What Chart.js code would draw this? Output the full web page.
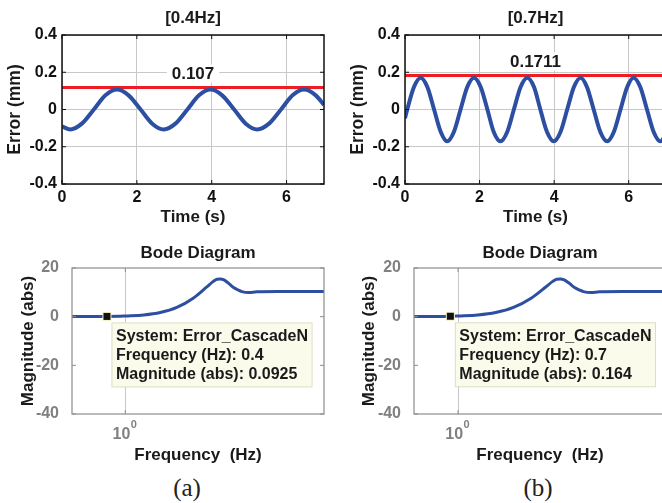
<!DOCTYPE html>
<html>
<head>
<meta charset="utf-8">
<script src="https://cdn.jsdelivr.net/npm/chart.js@4.4.1/dist/chart.umd.min.js"></script>
<style>
  html, body { margin: 0; padding: 0; background: #fff; overflow: hidden; width: 662px; height: 503px; }
  canvas { position: absolute; }
  .cap { position: absolute; font-family: 'Liberation Serif', 'DejaVu Serif', serif; font-size: 25px; color: #222; transform: translate(-50%, -50%); }
</style>
</head>
<body>
<canvas id="errA" width="331" height="240" style="left:0;top:0"></canvas>
<canvas id="errB" width="335" height="240" style="left:331px;top:0"></canvas>
<canvas id="bodeA" width="331" height="232" style="left:0;top:240px"></canvas>
<canvas id="bodeB" width="335" height="232" style="left:331px;top:240px"></canvas>
<div class="cap" style="left:187px;top:488px">(a)</div>
<div class="cap" style="left:538px;top:488px">(b)</div>
<script>
// tracking error at 0.4 Hz
const timeA  = [0, 0.22, 0.53, 0.85, 1.16, 1.47, 1.78, 2.10, 2.41, 2.72, 3.03, 3.35, 3.66, 3.97, 4.28, 4.60, 4.91, 5.22, 5.53, 5.85, 6.16, 6.47, 6.78, 7];
const errorA = [-0.091, -0.107, -0.076, 0, 0.076, 0.107, 0.076, 0, -0.076, -0.107, -0.076, 0, 0.076, 0.107, 0.076, 0, -0.076, -0.107, -0.076, 0, 0.076, 0.107, 0.076, 0.025];
const limitA = 0.118;

// tracking error at 0.7 Hz
const timeB  = [0, 0.06, 0.24, 0.42, 0.60, 0.78, 0.96, 1.13, 1.31, 1.49, 1.67, 1.85, 2.03, 2.21, 2.38, 2.56, 2.74, 2.92, 3.10, 3.28,
                3.46, 3.63, 3.81, 3.99, 4.17, 4.35, 4.53, 4.71, 4.88, 5.06, 5.24, 5.42, 5.60, 5.78, 5.96, 6.13, 6.31, 6.49, 6.67, 6.85, 7];
const errorB = [-0.047, 0, 0.121, 0.1711, 0.121, 0, -0.121, -0.1711, -0.121, 0, 0.121, 0.1711, 0.121, 0, -0.121, -0.1711, -0.121, 0, 0.121, 0.1711,
                0.121, 0, -0.121, -0.1711, -0.121, 0, 0.121, 0.1711, 0.121, 0, -0.121, -0.1711, -0.121, 0, 0.121, 0.1711, 0.121, 0, -0.121, -0.1711, -0.134];
const limitB = 0.183;

// Error_CascadeN magnitude response
const freqHz = [0.07, 0.4, 0.7, 1, 2.5, 5.7, 13, 30, 58, 80, 96, 115, 133, 170, 220, 280, 333, 461, 700, 2000, 20000];
const magAbs = [0.05, 0.0925, 0.164, 0.3, 0.7, 1.7, 3.8, 7.7, 12.2, 14.5, 15.4, 15.5, 15.2, 13.8, 12.0, 10.9, 10.3, 9.9, 10.2, 10.3, 10.3];

const tipA = { freq: 0.4, mag: 0.0925 };
const tipB = { freq: 0.7, mag: 0.164 };

const FONT = "'Liberation Sans', Arial, Helvetica, sans-serif";
Chart.defaults.font.family = FONT;
Chart.defaults.font.weight = 'bold';
Chart.defaults.font.size = 16;
Chart.defaults.color = '#1a1a1a';
Chart.defaults.animation = false;

const BLUE = '#2d4fa1';
const RED = '#ee1c25';

// box around the axes, inward tick marks and the title on top
const framePlugin = {
  id: 'frame',
  afterDatasetsDraw(chart, args, opts) {
    const { ctx, chartArea: a, scales } = chart;
    ctx.save();
    ctx.strokeStyle = opts.tickColor;
    ctx.lineWidth = 1;
    Object.values(scales).forEach(s => {
      s.ticks.forEach(t => {
        const p = s.getPixelForValue(t.value);
        ctx.beginPath();
        if (s.isHorizontal()) {
          ctx.moveTo(p, a.bottom); ctx.lineTo(p, a.bottom - 4);
          ctx.moveTo(p, a.top); ctx.lineTo(p, a.top + 4);
        } else {
          ctx.moveTo(a.left, p); ctx.lineTo(a.left + 4, p);
          ctx.moveTo(a.right, p); ctx.lineTo(a.right - 4, p);
        }
        ctx.stroke();
      });
    });
    ctx.strokeStyle = opts.color;
    ctx.lineWidth = opts.width;
    ctx.strokeRect(a.left, a.top, a.right - a.left, a.bottom - a.top);

    ctx.fillStyle = '#1a1a1a';
    ctx.font = 'bold 17px ' + FONT;
    ctx.textAlign = 'center';
    ctx.textBaseline = 'middle';
    ctx.fillText(opts.title, (a.left + a.right) / 2, opts.titleY);
    ctx.restore();
  }
};

// amplitude label above the limit line
const peakLabelPlugin = {
  id: 'peakLabel',
  beforeDatasetsDraw(chart, args, opts) {
    if (!opts.text) return;
    const { ctx, scales: { x, y } } = chart;
    const cx = x.getPixelForValue(opts.at);
    const cy = y.getPixelForValue(opts.value) - 14;
    ctx.save();
    ctx.font = 'bold 17px ' + FONT;
    const w = ctx.measureText(opts.text).width + 10;
    ctx.fillStyle = '#fff';
    ctx.fillRect(cx - w / 2, cy - 9, w, 18);
    ctx.fillStyle = '#1a1a1a';
    ctx.textAlign = 'center';
    ctx.textBaseline = 'middle';
    ctx.fillText(opts.text, cx, cy + 1);
    ctx.restore();
  }
};

// data tip box and the 10^0 decade label of the bode plots
const dataTipPlugin = {
  id: 'dataTip',
  afterDatasetsDraw(chart, args, opts) {
    if (!opts.tip) return;
    const { ctx, chartArea: a, scales: { x, y } } = chart;
    ctx.save();

    const px = x.getPixelForValue(1);
    ctx.fillStyle = '#808080';
    ctx.textBaseline = 'alphabetic';
    ctx.font = 'bold 16px ' + FONT;
    ctx.textAlign = 'right';
    ctx.fillText('10', px + 5, a.bottom + 24.5);
    ctx.font = 'bold 11px ' + FONT;
    ctx.textAlign = 'left';
    ctx.fillText('0', px + 5.5, a.bottom + 13.5);

    const mx = x.getPixelForValue(opts.tip.freq);
    const my = y.getPixelForValue(opts.tip.mag);
    const lines = [
      'System: ' + opts.system,
      'Frequency (Hz): ' + opts.tip.freq,
      'Magnitude (abs): ' + opts.tip.mag
    ];
    ctx.font = 'bold 16px ' + FONT;
    const w = Math.max(...lines.map(l => ctx.measureText(l).width)) + 8;
    const bx = mx + 4.5, by = my + 6;
    ctx.fillStyle = '#fbfbec';
    ctx.fillRect(bx, by, w, 64.5);
    ctx.strokeStyle = '#deddc6';
    ctx.lineWidth = 1;
    ctx.strokeRect(bx + 0.5, by + 0.5, w, 64);
    ctx.fillStyle = '#1a1a1a';
    ctx.textBaseline = 'middle';
    lines.forEach((l, i) => ctx.fillText(l, bx + 4.5, by + 14 + i * 19.3));

    ctx.fillStyle = '#f2f2c4';
    ctx.fillRect(mx - 4.5, my - 4.5, 9, 9);
    ctx.fillStyle = '#111';
    ctx.fillRect(mx - 3.5, my - 3.5, 7, 7);
    ctx.restore();
  }
};

function errorChart(id, times, errors, limit, title, yAxisWidth, yTitlePad, rightPad) {
  const peak = Math.max(...errors);
  return new Chart(document.getElementById(id), {
    type: 'line',
    data: {
      datasets: [{
        data: times.map((t, i) => ({ x: t, y: errors[i] })),
        borderColor: BLUE,
        borderWidth: 4,
        pointRadius: 0,
        cubicInterpolationMode: 'monotone'
      }, {
        data: [{ x: 0, y: limit }, { x: 7, y: limit }],
        borderColor: RED,
        borderWidth: 3,
        pointRadius: 0
      }]
    },
    options: {
      responsive: false,
      layout: { padding: { left: 0, top: 35, right: rightPad, bottom: 0 } },
      plugins: {
        legend: { display: false },
        tooltip: { enabled: false },
        frame: { title: title, titleY: 18, color: '#111', width: 1.5, tickColor: '#111' },
        peakLabel: { text: String(peak), at: 3.5, value: limit },
        dataTip: { tip: null }
      },
      scales: {
        x: {
          type: 'linear', min: 0, max: 7,
          ticks: { stepSize: 2, includeBounds: false, padding: 4, color: '#111' },
          grid: { color: '#c8c8c8', drawTicks: false },
          border: { display: false },
          title: { display: true, text: 'Time (s)', font: { size: 17 }, padding: { top: 0, bottom: 12 } },
          afterFit: s => { s.height = 56; }
        },
        y: {
          min: -0.4, max: 0.4,
          ticks: { stepSize: 0.2, padding: 5, color: '#111',
                   callback: v => Math.abs(v) < 1e-9 ? '0' : v.toFixed(1) },
          grid: { color: '#c8c8c8', drawTicks: false },
          border: { display: false },
          title: { display: true, text: 'Error (mm)', font: { size: 17.5 }, padding: { top: yTitlePad, bottom: 0 } },
          afterFit: s => { s.width = yAxisWidth; }
        }
      }
    },
    plugins: [framePlugin, peakLabelPlugin, dataTipPlugin]
  });
}

function bodeChart(id, tip, fMin, fMax, yAxisWidth, yTitlePad, rightPad) {
  return new Chart(document.getElementById(id), {
    type: 'line',
    data: {
      datasets: [{
        data: freqHz.map((f, i) => ({ x: f, y: magAbs[i] })),
        borderColor: BLUE,
        borderWidth: 3,
        pointRadius: 0,
        cubicInterpolationMode: 'monotone'
      }]
    },
    options: {
      responsive: false,
      layout: { padding: { left: 0, top: 28, right: rightPad, bottom: 0 } },
      plugins: {
        legend: { display: false },
        tooltip: { enabled: false },
        frame: { title: 'Bode Diagram', titleY: 13, color: '#8c8c8c', width: 1.2, tickColor: '#8c8c8c' },
        peakLabel: { text: null },
        dataTip: { tip: tip, system: 'Error_CascadeN' }
      },
      scales: {
        x: {
          type: 'logarithmic', min: fMin, max: fMax,
          afterBuildTicks: s => { s.ticks = [{ value: 1 }]; },
          ticks: { display: false },
          grid: { color: '#c8c8c8', drawTicks: false },
          border: { display: false },
          title: { display: true, text: 'Frequency  (Hz)', font: { size: 17 }, padding: { top: 0, bottom: 6 } },
          afterFit: s => { s.height = 58; }
        },
        y: {
          min: -40, max: 20,
          ticks: { stepSize: 20, padding: 5, color: '#808080' },
          grid: { display: false },
          border: { display: false },
          title: { display: true, text: 'Magnitude (abs)', font: { size: 17 }, padding: { top: yTitlePad, bottom: 0 } },
          afterFit: s => { s.width = yAxisWidth; }
        }
      }
    },
    plugins: [framePlugin, peakLabelPlugin, dataTipPlugin]
  });
}

errorChart('errA', timeA, errorA, limitA, '[0.4Hz]', 62, 5, 7);
errorChart('errB', timeB, errorB, limitB, '[0.7Hz]', 74, 16.5, 0);
bodeChart('bodeA', tipA, 0.07, 20000, 72, 18, 7);
bodeChart('bodeB', tipB, 0.13, 15200, 83, 28, 0);
</script>
</body>
</html>
